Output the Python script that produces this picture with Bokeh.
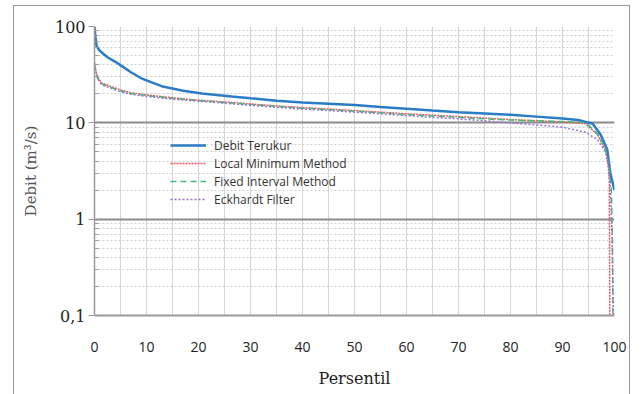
from bokeh.plotting import figure
from bokeh.models import FixedTicker, CustomJSTickFormatter, Legend, LegendItem, Range1d
from bokeh.embed import file_html
from bokeh.resources import INLINE

# Percentile (x) and flow (y, m3/s)
pct_obs = [0, 0.2, 0.4, 0.8, 1.35, 2.5, 4, 5.2, 7, 9, 11, 12.9, 16.8, 20.6, 26.4, 30, 35, 40, 45, 50, 55, 60, 65,
           70, 75, 80, 85, 90, 93, 95.8, 97.3, 98.6, 99.2, 100]
q_obs = [100, 75, 63, 58, 54, 48, 43, 39, 33.5, 29, 26.3, 24, 21.7, 20.2, 18.8, 18, 17, 16.3, 15.8, 15.3, 14.6,
         14, 13.4, 12.9, 12.5, 12.1, 11.6, 11.1, 10.7, 9.8, 7.6, 5.3, 3.0, 2.0]

pct_base = [0, 0.2, 0.6, 1.3, 3, 5, 7, 10, 15, 20, 25, 30, 35, 40, 45, 50, 55, 60, 65, 70, 75, 80, 85, 90,
            94.4, 96.7, 98.3]
q_lmm = [42, 36, 30, 26, 24, 22, 20.5, 19.5, 18.2, 17.2, 16.5, 15.7, 15.0, 14.4, 13.9, 13.4, 12.9, 12.4,
         12.0, 11.6, 11.2, 10.8, 10.5, 10.2, 9.8, 7.6, 5.2]
q_fim = [40, 35, 29, 25.5, 23.5, 21.5, 20.2, 19.2, 18.0, 17.0, 16.3, 15.5, 14.8, 14.2, 13.7, 13.2, 12.7, 12.2,
         11.8, 11.4, 11.0, 10.7, 10.5, 10.3, 10.1, 7.8, 5.4]
q_eck = [41, 35, 29, 25, 23, 21, 19.8, 18.8, 17.6, 16.8, 16.0, 15.2, 14.5, 13.9, 13.4, 12.9, 12.4, 11.9,
         11.4, 11.0, 10.5, 10.0, 9.5, 9.0, 8.0, 6.7, 5.0]

pct_lmm_tail = [98.8, 99.0, 99.1]
q_lmm_tail = [3.5, 2.5, 0.1]
pct_fim_tail = [99.0, 99.4, 99.6, 99.7]
q_fim_tail = [3.4, 2.0, 0.6, 0.1]
pct_eck_tail = [98.8, 99.2, 99.5, 99.8]
q_eck_tail = [3.8, 2.2, 0.8, 0.1]

x_ticks = [0, 10, 20, 30, 40, 50, 60, 70, 80, 90, 100]
x_minor = [5, 15, 25, 35, 45, 55, 65, 75, 85, 95]
y_ticks = [0.1, 1, 10, 100]
y_minor = [0.2, 0.3, 0.4, 0.5, 0.6, 0.7, 0.8, 0.9, 2, 3, 4, 5, 6, 7, 8, 9, 20, 30, 40, 50, 60, 70, 80, 90]

series_names = ["Debit Terukur", "Local Minimum Method", "Fixed Interval Method", "Eckhardt Filter"]

p = figure(width=617, height=392, y_axis_type="log", output_backend="svg", toolbar_location=None,
           x_range=Range1d(0, 100), y_range=Range1d(0.1, 100),
           min_border_left=80, min_border_right=17, min_border_top=20, min_border_bottom=83)
p.margin = (5, 0, 0, 13)
p.styles = {"border": "1px solid #9a9a9a", "border-bottom": "none"}
p.outline_line_color = None
p.background_fill_color = "white"
p.border_fill_color = "white"

# x axis
p.xaxis.ticker = FixedTicker(ticks=x_ticks, minor_ticks=x_minor)
p.xaxis.axis_line_color = "#9a9a9a"
p.xaxis.axis_line_width = 2
p.xaxis.major_tick_line_color = None
p.xaxis.minor_tick_line_color = None
p.xaxis.major_label_text_font = "Open Sans"
p.xaxis.major_label_text_font_size = "14px"
p.xaxis.major_label_text_color = "#222222"
p.xaxis.major_label_standoff = 20
p.xaxis.axis_label = "Persentil"
p.xaxis.axis_label_text_font = "DejaVu Serif"
p.xaxis.axis_label_text_font_style = "normal"
p.xaxis.axis_label_text_font_size = "16px"
p.xaxis.axis_label_text_color = "#222222"
p.xaxis.axis_label_standoff = 14

# y axis
p.yaxis.ticker = FixedTicker(ticks=y_ticks, minor_ticks=y_minor)
p.yaxis.formatter = CustomJSTickFormatter(code="return tick < 1 ? '0,1' : String(Math.round(tick));")
p.yaxis.axis_line_color = "#9a9a9a"
p.yaxis.axis_line_width = 1.5
p.yaxis.major_tick_line_color = "#9a9a9a"
p.yaxis.major_tick_out = 6
p.yaxis.major_tick_in = 0
p.yaxis.minor_tick_line_color = "#9a9a9a"
p.yaxis.minor_tick_in = 4
p.yaxis.minor_tick_out = 0
p.yaxis.major_label_text_font = "DejaVu Serif"
p.yaxis.major_label_text_font_size = "16px"
p.yaxis.major_label_text_color = "#222222"
p.yaxis.major_label_standoff = 3
p.yaxis.axis_label = "Debit (m³/s)"
p.yaxis.axis_label_text_font = "DejaVu Serif"
p.yaxis.axis_label_text_font_style = "normal"
p.yaxis.axis_label_text_font_size = "15px"
p.yaxis.axis_label_text_color = "#555555"
p.yaxis.axis_label_standoff = 12

# grids
p.xgrid.grid_line_color = "#d4d4d4"
p.xgrid.grid_line_width = 1
p.xgrid.minor_grid_line_color = "#d4d4d4"
p.xgrid.minor_grid_line_width = 1
p.ygrid.grid_line_color = "#8c8c8c"
p.ygrid.grid_line_width = 2
p.ygrid.minor_grid_line_color = "#cfcfcf"
p.ygrid.minor_grid_line_dash = "2 2"
p.ygrid.minor_grid_line_width = 1

c_obs, c_lmm, c_fim, c_eck = "#2a7dc4", "#e8545c", "#3dbb7c", "#9b70cc"

r_obs = p.line(pct_obs, q_obs, line_color=c_obs, line_width=2.5)
r_lmm = p.line(pct_base + pct_lmm_tail, q_lmm + q_lmm_tail, line_color=c_lmm, line_width=1.5, line_dash="2 1")
r_fim = p.line(pct_base + pct_fim_tail, q_fim + q_fim_tail, line_color=c_fim, line_width=1.5, line_dash="6 4")
r_eck = p.line(pct_base + pct_eck_tail, q_eck + q_eck_tail, line_color=c_eck, line_width=1.5, line_dash="2 2")

legend = Legend(items=[LegendItem(label=n, renderers=[r]) for n, r in
                       zip(series_names, [r_obs, r_lmm, r_fim, r_eck])],
                location=(72, 103))
legend.background_fill_alpha = 0
legend.border_line_alpha = 0
legend.label_text_font = "Open Sans"
legend.label_text_font_size = "12px"
legend.label_text_color = "#333333"
legend.label_standoff = 8
legend.glyph_width = 36
legend.glyph_height = 18
legend.label_height = 18
legend.spacing = 0
legend.padding = 4
legend.margin = 0
p.add_layout(legend, "center")

open("out.html", "w").write(file_html(p, INLINE))
